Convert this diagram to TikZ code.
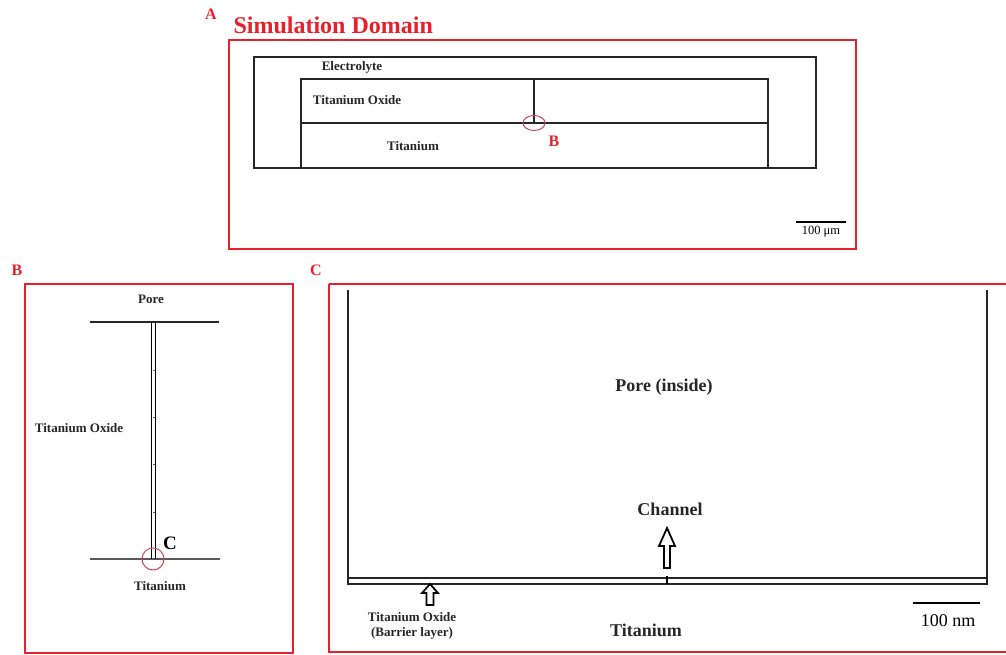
\documentclass[tikz,border=0pt]{standalone}
\usepackage{fontspec}
\setmainfont{Liberation Serif}
\usetikzlibrary{positioning}
\definecolor{panelred}{RGB}{232,32,44}
\definecolor{markred}{RGB}{196,72,92}
\tikzset{
  panel/.style={draw=panelred, line width=2pt},
  wall/.style={draw=black!85, line width=2.9pt},
  thin wall/.style={draw=black!85, line width=1.5pt},
  tag/.style={text=panelred, font=\bfseries\fontsize{16}{16}\selectfont},
  lbl/.style={font=\bfseries\fontsize{13}{13}\selectfont, text=black!85},
  big lbl/.style={font=\bfseries\fontsize{18}{18}\selectfont, text=black!85},
  zoomring/.style={draw=markred, line width=1pt},
  hollow arrow/.style={draw=black, line width=1.8pt, fill=white, line join=miter}
}
\begin{document}
\begin{tikzpicture}[x=1pt, y=-1pt]
\useasboundingbox (0,0) rectangle (1006,654);

% panel A: simulation domain
\node[tag] (tagA) at (211,14) {A};
\node[text=panelred, font=\bfseries\fontsize{24}{24}\selectfont, anchor=west] (title) at (230,25) {Simulation Domain};
\draw[panel] (229,40) rectangle (856,249);
\draw[wall] (254,57) rectangle (816,168);
\draw[wall] (301,168) -- (301,79) -- (768,79) -- (768,168);
\draw[wall] (301,123) -- (768,123);
\draw[wall] (534,79) -- (534,123);
\draw[zoomring] (534,123) ellipse (11 and 7.5);
\node[text=panelred, font=\bfseries\fontsize{16}{16}\selectfont] (markB) at (554,141) {B};
\node[lbl] (electrolyte) at (352,67) {Electrolyte};
\node[lbl] (oxideA) at (357,100) {Titanium Oxide};
\node[lbl] (titaniumA) at (413,146) {Titanium};
\draw[line width=2pt] (796,222) -- (846,222);
\node[font=\fontsize{12.5}{12.5}\selectfont] (barA) at (821,232) {100 μm};

% panel B: single pore
\node[tag] (tagB) at (17,270) {B};
\draw[panel] (25,284) rectangle (293,653);
\draw[thin wall] (90,322) -- (219,322);
\draw[thin wall, draw=black!65, line width=1.8pt] (90,559) -- (220,559);
\draw[line width=1pt] (151.5,322) -- (151.5,559);
\draw[line width=1pt] (155,322) -- (155,559);
\foreach \ty in {370,417,464,512}
  \draw[line width=0.5pt, black!60] (153.3,\ty) -- (155,\ty);
\draw[zoomring] (153,559) circle (11);
\node[font=\bfseries\fontsize{19}{19}\selectfont] (markC) at (170,543) {C};
\node[lbl] (pore) at (151,299) {Pore};
\node[lbl] (oxideB) at (79,428) {Titanium Oxide};
\node[lbl] (titaniumB) at (160,586) {Titanium};

% panel C: pore bottom
\node[tag] (tagC) at (316,270) {C};
\draw[panel] (329,284) -- (1010,284);
\draw[panel] (329,284) -- (329,652) -- (1010,652);
\draw[thin wall, line width=2.2pt] (348,290) -- (348,584) -- (987,584) -- (987,290);
\draw[thin wall, line width=2.2pt] (348,578) -- (987,578);
\draw[line width=2.6pt] (667,576) -- (667,584);
% arrows
\draw[hollow arrow] (664,568) -- (664,546) -- (659,546) -- (667,528)
  -- (675,546) -- (670,546) -- (670,568) -- cycle;
\draw[hollow arrow] (430,584) -- (438,593) -- (433.5,593) -- (433.5,605)
  -- (426.5,605) -- (426.5,593) -- (422,593) -- cycle;
\node[big lbl] (inside) at (664,387) {Pore (inside)};
\node[big lbl] (channel) at (670,509) {Channel};
\node[lbl, align=center, font=\bfseries\fontsize{13}{15.5}\selectfont] (barrier) at (412,626) {Titanium Oxide\\(Barrier layer)};
\node[big lbl] (titaniumC) at (646,630) {Titanium};
\draw[line width=2pt] (913,603) -- (980,603);
\node[font=\fontsize{18}{18}\selectfont] (barC) at (948,621) {100 nm};
\end{tikzpicture}
\end{document}
